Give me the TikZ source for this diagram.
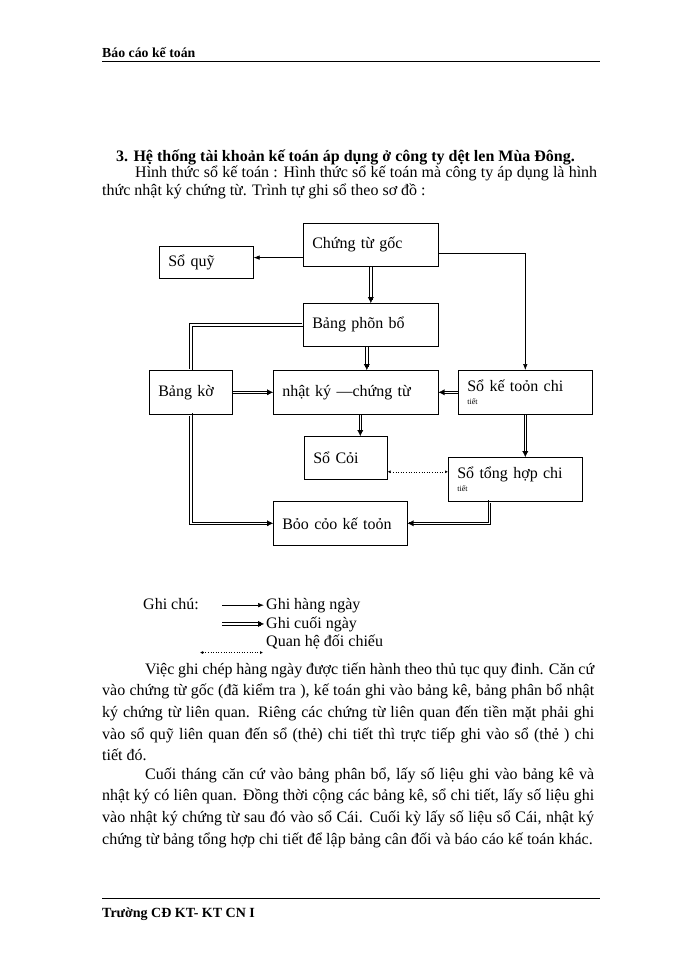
\documentclass[tikz,border=0pt]{standalone}
\usepackage{fontspec}
\setmainfont{Liberation Serif}
\usetikzlibrary{positioning}
\usetikzlibrary{arrows.meta}

\tikzset{
  hop/.style={draw,rectangle,anchor=north west,inner xsep=9pt,inner ysep=0pt,align=left,line width=0.6pt,font=\fontsize{16}{15}\selectfont},
  chu/.style={inner sep=0pt,anchor=base west,font=\fontsize{16}{18}\selectfont},
  doan/.style={inner sep=0pt,anchor=north west,align=justify,font=\fontsize{16}{21.6}\selectfont},
  hangngay/.style={-{Latex[length=6pt,width=4.5pt]},line width=0.6pt},
  kep/.style 2 args={draw=none,
    postaction={draw=black,line width=0.6pt,transform canvas={shift={(#1)}}},
    postaction={draw=black,line width=0.6pt,transform canvas={shift={(#2)}}}},
  cuoingay/.style 2 args={draw=white,line width=0.3pt,-{Latex[length=6pt,width=6pt,black]},
    postaction={draw=black,-,line width=0.6pt,shorten >=3pt,transform canvas={shift={(#1)}}},
    postaction={draw=black,-,line width=0.6pt,shorten >=3pt,transform canvas={shift={(#2)}}}},
  doichieu/.style={dotted,line width=0.6pt,{Latex[length=3pt,width=3pt]}-{Latex[length=3pt,width=3pt]}}
}

\begin{document}
\begin{tikzpicture}[x=1pt,y=-1pt]
\useasboundingbox (0,0) rectangle (700,960);

% header
\node[inner sep=0pt,anchor=base west,font=\bfseries\fontsize{13.8}{14}\selectfont] (tieude) at (102,58) {Báo cáo kế toán};
\coordinate (dau1) at (102,62);
\coordinate (dau2) at (600,62);
\draw[line width=1pt] (dau1) -- (dau2);

% title
\node[chu,font=\bfseries\fontsize{16}{18}\selectfont] (muc) at (116,161) {3. Hệ thống tài khoản kế toán áp dụng ở công ty dệt len Mùa Đông.};
\node[doan,text width=495pt,font=\fontsize{16}{18}\selectfont] (hinhthuc) at (102,165)
  {\strut\hspace*{33pt}Hình thức sổ kế toán : Hình thức sổ kế toán mà công ty áp dụng là hình\linebreak
   thức nhật ký chứng từ. Trình tự ghi sổ theo sơ đồ :};

% boxes
\node[hop,text width=117pt,minimum height=43pt] (goc) at (303,223) {Chứng từ gốc};
\node[hop,text width=76pt,minimum height=32pt] (quy) at (159,246) {Sổ quỹ};
\node[hop,text width=117pt,minimum height=43pt] (phanbo) at (303,303) {Bảng phõn bổ};
\node[hop,text width=65pt,minimum height=44pt] (bangke) at (149,370) {Bảng kờ};
\node[hop,text width=147pt,minimum height=44pt] (nhatky) at (273,370) {nhật ký —chứng từ};
\node[hop,text width=116pt,minimum height=44pt] (chitiet) at (458,370) {Sổ kế toỏn chi\\[-2pt]{\fontsize{8}{8}\selectfont tiết}};
\node[hop,text width=65pt,minimum height=43pt] (socai) at (304,436) {Sổ Cỏi};
\node[hop,text width=116pt,minimum height=44pt] (tonghop) at (448,457) {Sổ tổng hợp chi\\[-2pt]{\fontsize{8}{8}\selectfont tiết}};
\node[hop,text width=116pt,minimum height=44pt] (baocao) at (273,501) {Bỏo cỏo kế toỏn};

% connectors
\draw[hangngay] ([yshift=9pt]goc.south west) coordinate (g1) -- (g1 -| quy.east);
\draw[cuoingay={1.2pt,0pt}{-1.2pt,0pt}] (goc.south) -- (phanbo.north);
\draw[hangngay] ([yshift=-8pt]goc.east) -| (chitiet.north);
\draw[kep={-1.2pt,1.2pt}{1.2pt,-1.2pt}] (phanbo.west) -| (bangke.north);
\draw[cuoingay={1.2pt,0pt}{-1.2pt,0pt}] ([xshift=-4pt]phanbo.south) coordinate (p1) -- (p1 |- nhatky.north);
\draw[cuoingay={0pt,1.2pt}{0pt,-1.2pt}] (bangke.east) -- (nhatky.west);
\draw[cuoingay={0pt,1.2pt}{0pt,-1.2pt}] (chitiet.west) -- (nhatky.east);
\draw[cuoingay={1.2pt,0pt}{-1.2pt,0pt}] ([xshift=4.5pt]nhatky.south) coordinate (n1) -- (n1 |- socai.north);
\draw[doichieu] ([yshift=-14pt]socai.east) coordinate (s1) -- (s1 -| tonghop.west);
\draw[cuoingay={1.2pt,0pt}{-1.2pt,0pt}] (chitiet.south) -- (chitiet.south |- tonghop.north);
\draw[cuoingay={-1.2pt,-1.2pt}{1.2pt,1.2pt}] (bangke.south) |- (baocao.west);
\draw[cuoingay={1.2pt,-1.2pt}{-1.2pt,1.2pt}] ([xshift=-26pt]tonghop.south) |- (baocao.east);

% legend
\node[chu] (ghichu) at (143,609) {Ghi chú:};
\node[chu] (ghi1) at (266,609) {Ghi hàng ngày};
\node[chu] (ghi2) at (266,628) {Ghi cuối ngày};
\node[chu] (ghi3) at (266,646) {Quan hệ đối chiếu};
\draw[hangngay] ([xshift=-44pt]ghi1.west) -- ([xshift=-2pt]ghi1.west);
\draw[cuoingay={0pt,1.2pt}{0pt,-1.2pt}] ([xshift=-44pt]ghi2.west) -- ([xshift=-2pt]ghi2.west);
\draw[doichieu] ([shift={(-66pt,-11pt)}]ghi3.west) -- ([shift={(-3pt,-11pt)}]ghi3.west);

% paragraphs
\node[doan,text width=492pt] (doan1) at (102,659)
  {\strut\hspace*{43pt}Việc ghi chép hàng ngày được tiến hành theo thủ tục quy đinh. Căn cứ\linebreak
   vào chứng từ gốc (đã kiểm tra ), kế toán ghi vào bảng kê, bảng phân bổ nhật\linebreak
   ký chứng từ liên quan. Riêng các chứng từ liên quan đến tiền mặt phải ghi\linebreak
   vào sổ quỹ liên quan đến sổ (thẻ) chi tiết thì trực tiếp ghi vào sổ (thẻ ) chi\linebreak
   tiết đó.};
\node[doan,text width=492pt] (doan2) at (102,764)
  {\strut\hspace*{43pt}Cuối tháng căn cứ vào bảng phân bổ, lấy số liệu ghi vào bảng kê và\linebreak
   nhật ký có liên quan. Đồng thời cộng các bảng kê, sổ chi tiết, lấy số liệu ghi\linebreak
   vào nhật ký chứng từ sau đó vào sổ Cái. Cuối kỳ lấy số liệu sổ Cái, nhật ký\linebreak
   chứng từ bảng tổng hợp chi tiết để lập bảng cân đối và báo cáo kế toán khác.};

% footer
\coordinate (cuoi1) at (102,898);
\coordinate (cuoi2) at (600,898);
\draw[line width=1pt] (cuoi1) -- (cuoi2);
\node[inner sep=0pt,anchor=base west,font=\bfseries\fontsize{14}{14}\selectfont] (truong) at (102,917) {Trường CĐ KT- KT CN I};
\end{tikzpicture}
\end{document}
